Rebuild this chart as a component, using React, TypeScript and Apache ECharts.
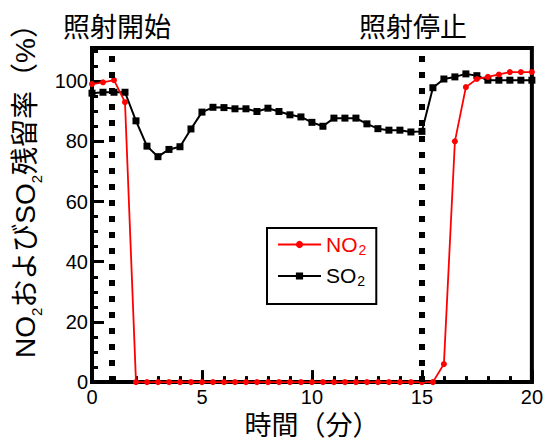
import React, { useEffect, useRef } from "react";
import * as echarts from "echarts";

// time (minutes)
const TIMES = [0, 0.5, 1, 1.5, 2, 2.5, 3, 3.5, 4, 4.5, 5, 5.5, 6, 6.5, 7, 7.5, 8, 8.5, 9, 9.5, 10, 10.5, 11, 11.5, 12, 12.5, 13, 13.5, 14, 14.5, 15, 15.5, 16, 16.5, 17, 17.5, 18, 18.5, 19, 19.5, 20];

// NO2 residual rate (%)
const NO2 = [99, 99.6, 100.3, 93, 0, 0, 0, 0, 0, 0, 0, 0, 0, 0, 0, 0, 0, 0, 0, 0, 0, 0, 0, 0, 0, 0, 0, 0, 0, 0, 0, 0, 6, 80, 98, 100.7, 101.4, 102.2, 103, 103, 103];

// SO2 residual rate (%)
const SO2 = [96, 96.3, 96.3, 96.3, 86.8, 78.4, 74.9, 77.3, 78.2, 84.1, 89.7, 91.3, 91.2, 90.8, 90.8, 89.9, 91.0, 89.9, 88.8, 88.1, 86.3, 85.0, 87.7, 87.7, 87.7, 85.8, 84.2, 83.7, 83.7, 83.1, 83.3, 97.8, 100.7, 101.4, 102.4, 101.8, 100.3, 100.3, 100.3, 100.3, 100.3];

// irradiation start / stop (minutes)
const EVENT_TIMES = [0.9, 15];
const EVENT_LABELS = ["照射開始", "照射停止"];

const SERIES_NAMES = ["NO2", "SO2"];

const FONT = '"Liberation Sans", Arial, "Noto Sans CJK JP", sans-serif';

export default function App() {
  const ref = useRef<HTMLDivElement>(null);

  useEffect(() => {
    const chart = echarts.init(ref.current!, null, { renderer: "svg" });
    const tickStyle = { color: "#000", width: 3 };
    const legendRich = (color: string) => ({
      m: { fontSize: 21, lineHeight: 24, color, fontFamily: FONT },
      s: { fontSize: 14, lineHeight: 1, verticalAlign: "bottom", color, fontFamily: FONT, padding: [0, 0, 0, 1] },
    });

    chart.setOption({
      animation: false,
      grid: {
        left: 92,
        right: 11,
        top: 48,
        bottom: 57,
        show: true,
        borderColor: "#000",
        borderWidth: 4,
        backgroundColor: "transparent",
      },
      xAxis: [
        {
          type: "value",
          min: 0,
          max: 20,
          interval: 5,
          axisLine: { show: true, lineStyle: { color: "#000", width: 4 } },
          axisTick: { show: true, inside: true, length: 12, lineStyle: tickStyle },
          axisLabel: { fontSize: 20, color: "#000", margin: 5, fontFamily: FONT },
          splitLine: { show: false },
          name: "時間（分）",
          nameLocation: "middle",
          nameGap: 27,
          nameTextStyle: { fontSize: 27, color: "#000", fontFamily: FONT },
        },
        {
          type: "value",
          min: 0,
          max: 20,
          interval: 1,
          position: "bottom",
          axisLine: { show: false },
          axisTick: { show: true, inside: true, length: 6, lineStyle: tickStyle },
          axisLabel: { show: false },
          splitLine: { show: false },
        },
      ],
      yAxis: [
        {
          type: "value",
          min: 0,
          max: 111,
          interval: 20,
          axisLine: { show: true, lineStyle: { color: "#000", width: 4 } },
          axisTick: { show: true, inside: true, length: 12, lineStyle: tickStyle },
          axisLabel: { fontSize: 20, color: "#000", margin: 4, fontFamily: FONT, showMaxLabel: false },
          splitLine: { show: false },
        },
        {
          type: "value",
          min: 0,
          max: 111,
          interval: 5,
          position: "left",
          axisLine: { show: false },
          axisTick: { show: true, inside: true, length: 6, lineStyle: tickStyle },
          axisLabel: { show: false },
          splitLine: { show: false },
        },
      ],
      legend: {
        orient: "vertical",
        left: 267,
        top: 228,
        padding: [6, 10, 16, 10],
        itemGap: 9,
        itemWidth: 43,
        itemHeight: 9,
        borderColor: "#000",
        borderWidth: 2,
        backgroundColor: "#fff",
        data: [
          { name: SERIES_NAMES[0], textStyle: { color: "#ff0000", rich: legendRich("#ff0000") } },
          { name: SERIES_NAMES[1], textStyle: { color: "#000", rich: legendRich("#000") } },
        ],
        formatter: (name: string) => (name === "NO2" ? "{m|NO}{s|2}" : "{m|SO}{s|2}"),
        textStyle: { fontSize: 21, fontFamily: FONT, rich: legendRich("#000") },
      },
      series: [
        {
          name: SERIES_NAMES[1],
          type: "line",
          xAxisIndex: 0,
          yAxisIndex: 0,
          data: TIMES.map((t, i) => [t, SO2[i]]),
          symbol: "rect",
          symbolSize: 7,
          lineStyle: { color: "#000", width: 2 },
          itemStyle: { color: "#000" },
          z: 3,
          markLine: {
            silent: true,
            symbol: "none",
            label: { show: false },
            lineStyle: { color: "#000", width: 6, type: [6, 10], cap: "butt" },
            data: EVENT_TIMES.map((t) => ({ xAxis: t })),
          },
        },
        {
          name: SERIES_NAMES[0],
          type: "line",
          xAxisIndex: 0,
          yAxisIndex: 0,
          data: TIMES.map((t, i) => [t, NO2[i]]),
          symbol: "circle",
          symbolSize: 6,
          lineStyle: { color: "#ff0000", width: 1.8 },
          itemStyle: { color: "#ff0000" },
          z: 4,
        },
      ],
      graphic: [
        {
          type: "text",
          x: 25,
          y: 184,
          rotation: Math.PI / 2,
          style: {
            text: "{m|NO}{s|2}{m|およびSO}{s|2}{m|残留率（%）}",
            align: "center",
            verticalAlign: "middle",
            fill: "#000",
            rich: {
              m: { fontSize: 28, lineHeight: 38, fill: "#000", fontFamily: FONT },
              s: { fontSize: 15, lineHeight: 2, verticalAlign: "bottom", fill: "#000", fontFamily: FONT },
            },
          },
        },
        {
          type: "text",
          x: 117,
          y: 28,
          style: { text: EVENT_LABELS[0], fontSize: 27, fontFamily: FONT, fill: "#000", align: "center", verticalAlign: "middle" },
        },
        {
          type: "text",
          x: 413,
          y: 28,
          style: { text: EVENT_LABELS[1], fontSize: 27, fontFamily: FONT, fill: "#000", align: "center", verticalAlign: "middle" },
        },
      ],
    });
    return () => chart.dispose();
  }, []);

  return <div ref={ref} style={{ width: 546, height: 444, position: "absolute", left: 0, top: 0 }} />;
}
